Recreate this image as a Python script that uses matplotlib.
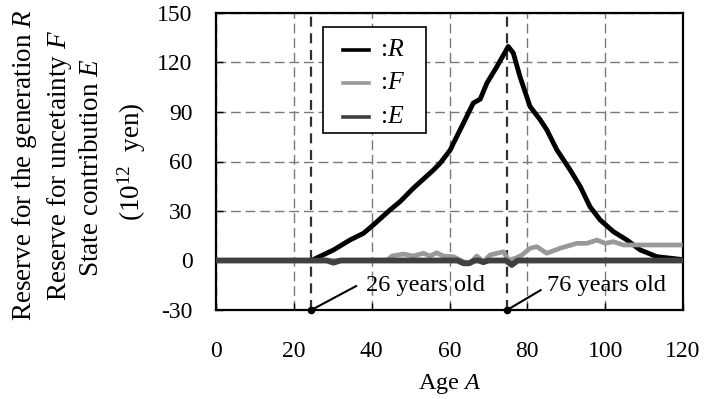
import matplotlib
matplotlib.use("Agg")
import matplotlib.pyplot as plt
from matplotlib.patches import Rectangle

plt.rcParams['font.family'] = ['Liberation Serif', 'DejaVu Serif']
plt.rcParams['mathtext.fontset'] = 'custom'
plt.rcParams['mathtext.rm'] = 'Liberation Serif'
plt.rcParams['mathtext.it'] = 'Liberation Serif:italic'
plt.rcParams['axes.unicode_minus'] = False

# ---- data ----
age_R = [0, 24.5, 30.2, 34.4, 37.9, 40.4, 44.7, 47.3, 50.7, 55.9, 57.6, 60.2, 61.0, 63.6,
         66.1, 67.9, 69.6, 72.2, 75.1, 76.4, 78.1, 80.7, 83.3, 85.0, 87.6, 91.0, 93.6,
         96.1, 98.7, 102.1, 105.6, 109.0, 113.3, 119.3]
R = [0, 0, 6.4, 12.4, 16.5, 21.5, 30.6, 35.7, 43.8, 54.9, 59.0, 67.0, 71.0, 83.3,
     95.4, 97.8, 107.5, 117.6, 129.7, 125.7, 111.5, 93.3, 85.3, 79.2, 67.0, 54.9, 44.8,
     32.6, 24.6, 17.5, 12.4, 6.4, 2.3, 0.7]

age_F = [0, 44.0, 45.2, 48.1, 50.7, 53.3, 55.0, 56.7, 58.4, 61.0, 63.6, 65.3, 67.0, 68.7,
         70.4, 72.2, 73.9, 75.1, 76.9, 78.6, 80.7, 82.4, 85.0, 88.4, 92.7, 95.3, 97.9,
         100.0, 102.1, 104.7, 119.3]
F = [0, 0, 2.7, 3.9, 2.7, 4.4, 2.7, 4.7, 2.7, 2.3, -0.7, -1.7, 2.7, -0.7,
     3.3, 4.4, 5.3, 0.3, 1.3, 3.3, 7.4, 8.4, 4.4, 7.4, 10.4, 10.4, 12.4,
     10.4, 11.4, 9.4, 9.4]

age_E = [0, 28.5, 30.2, 32.0, 62.0, 63.6, 65.0, 66.5, 67.5, 68.7, 70.0, 74.5, 76.0, 77.5, 119.3]
E = [0, 0, -1.3, 0, 0, -1.7, -1.7, 0, 0, -1.0, 0, 0, -2.7, 0, 0]

marker_age = [24.5, 74.8]
marker_labels = ["26 years old", "76 years old"]

series_labels = ["R", "F", "E"]
series_colors = ["black", "#999999", "#404040"]

x_ticks = [0, 20, 40, 60, 80, 100, 120]
y_ticks = [-30, 0, 30, 60, 90, 120, 150]

# ---- figure ----
W, H = 704, 399
fig = plt.figure(figsize=(W/100, H/100), dpi=100)
L, Rr, T, B = 216, 683, 13, 310
ax = fig.add_axes([L/W, 1-B/H, (Rr-L)/W, (B-T)/H])

def ax_xy(px, py):
    return ((px-L)/(Rr-L), (B-py)/(B-T))

ax.set_xlim(0, 120)
ax.set_ylim(-30, 150)
ax.set_xticks(x_ticks)
ax.set_yticks(y_ticks)
ax.tick_params(direction='in', length=5, width=1, labelsize=17)
ax.tick_params(axis='y', pad=17)
ax.tick_params(axis='x', pad=22.5)
for s in ax.spines.values():
    s.set_linewidth(1.6)
    s.set_color('black')

ax.grid(True, color='#7a7a7a', linestyle=(0, (7, 3.5)), linewidth=1.0)
ax.set_axisbelow(True)

for a in marker_age:
    ax.axvline(a, color='#303030', linestyle=(0, (4.5, 3)), linewidth=1.6, zorder=1.5)

lines = []
for xs, ys, c, lw, z in [(age_R, R, series_colors[0], 3.5, 3),
                         (age_F, F, series_colors[1], 3.4, 3.2),
                         (age_E, E, series_colors[2], 4.2, 3.4)]:
    ln, = ax.plot(xs, ys, color=c, linewidth=lw, zorder=z, solid_joinstyle='round')
    lines.append(ln)

# annotations
text_pos = [(38.5, -15.0), (85.0, -15.0)]
line_end = [(36.0, -15.5), (83.4, -18.0)]
for a, lab, (tx, ty), (lx, ly) in zip(marker_age, marker_labels, text_pos, line_end):
    ax.plot([a, lx], [-30, ly], color='black', linewidth=1.5, clip_on=False, zorder=4)
    ax.plot([a], [-30], 'o', color='black', markersize=4.5, clip_on=False, zorder=5)
    ax.text(tx, ty, lab, fontsize=17.5, va='center', ha='left', zorder=5)

# legend (box, handles and labels)
x0, y0 = ax_xy(323, 133)
x1, y1 = ax_xy(426, 27)
ax.add_patch(Rectangle((x0, y0), x1-x0, y1-y0, transform=ax.transAxes,
                       facecolor='white', edgecolor='black', linewidth=1.2, zorder=6))
for lab, c, py in zip(series_labels, series_colors, [50, 83, 117]):
    hx0, hy = ax_xy(343, py)
    hx1, _ = ax_xy(369, py)
    ax.plot([hx0, hx1], [hy, hy], color=c, linewidth=2.6, transform=ax.transAxes, zorder=7)
    tx, _ = ax_xy(380, py)
    ax.text(tx, hy, ':$\\it{%s}$' % lab, fontsize=18.5, va='center', ha='left',
            transform=ax.transAxes, zorder=7)

ax.set_xlabel('Age $\\it{A}$', fontsize=17.5, labelpad=7)

# y label lines
ylines = ['Reserve for the generation $\\it{R}$',
          'Reserve for uncetainty $\\it{F}$',
          'State contribution $\\it{E}$',
          '(10$^{12}$  yen)']
yx = [25, 60, 91, 132]
yc = [165, 165, 168, 162]
for t, x, y in zip(ylines, yx, yc):
    fig.text(x/W, 1-y/H, t, rotation=90, fontsize=19.5, ha='center', va='center')

fig.savefig('out.png', dpi=100)
